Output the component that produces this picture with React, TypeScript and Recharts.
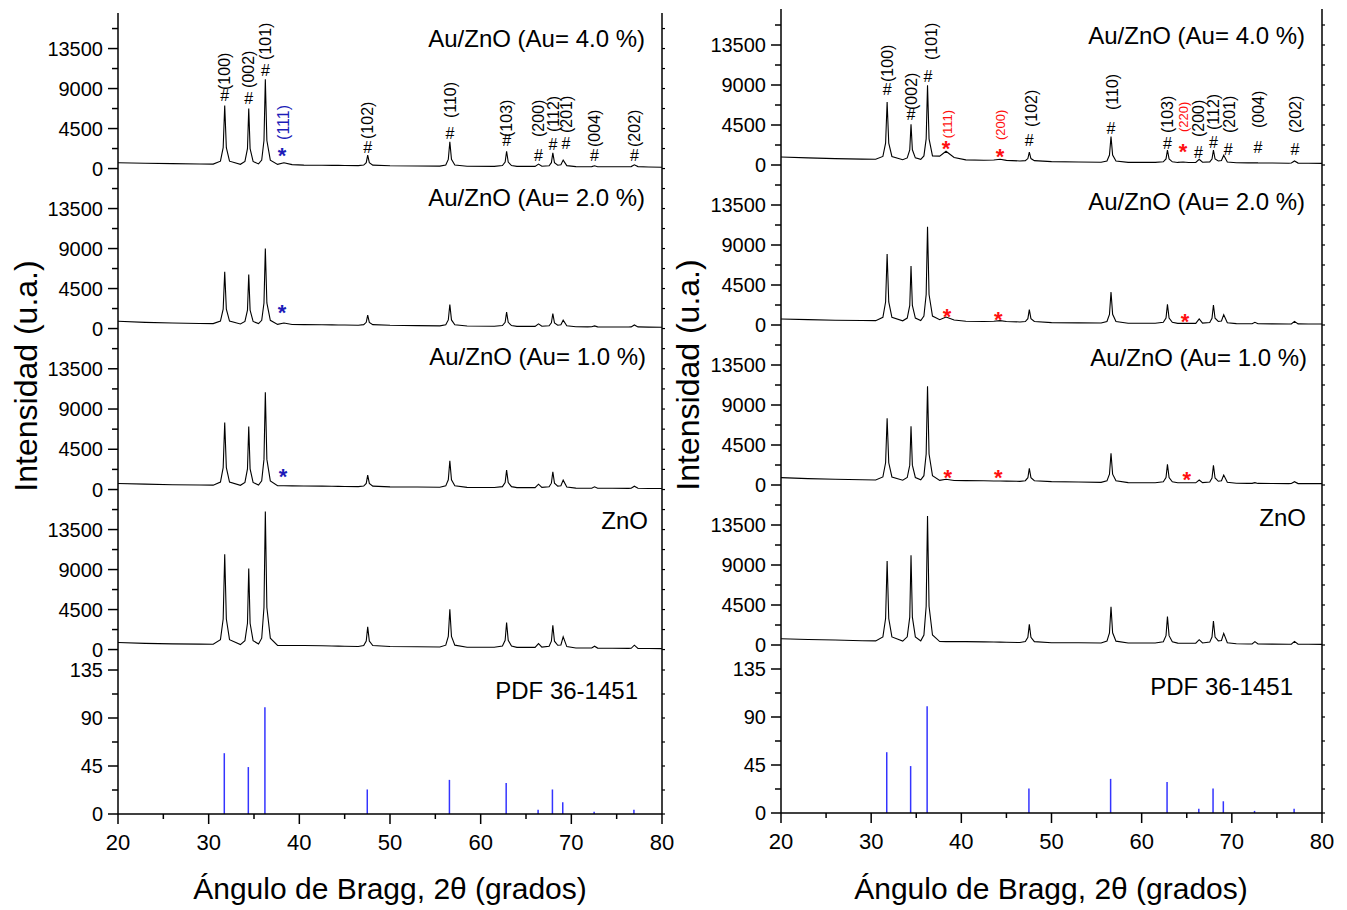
import React from 'react';
import { ComposedChart, Line, Bar, Scatter, XAxis, YAxis } from 'recharts';

const FONT = '"Liberation Sans", Arial, Helvetica, sans-serif';

// ángulos 2θ donde se leyeron las intensidades
const twoTheta = [
  20, 23, 26, 29, 30.5,
  31.3, 31.6, 31.77, 31.95, 32.3,
  33.5,
  34.0, 34.28, 34.42, 34.57, 34.9,
  35.5,
  35.85, 36.1, 36.25, 36.42, 36.8,
  37.6, 38.3, 39.2, 40.5, 42.5, 43.6, 44.3, 45.0, 46.5,
  47.1, 47.38, 47.54, 47.72, 48.1,
  50, 53, 55.5,
  56.15, 56.43, 56.6, 56.78, 57.15,
  58.5, 61.5,
  62.4, 62.7, 62.86, 63.04, 63.4,
  64.0, 64.6, 65.2,
  66.0, 66.38, 66.75,
  67.55, 67.8, 67.96, 68.14, 68.5,
  68.85, 69.1, 69.5,
  70.5, 71.8,
  72.25, 72.56, 72.9,
  74.5, 76.3,
  76.6, 76.95, 77.35,
  78.5, 80,
];

const leftAu4 = [
  650, 600, 560, 520, 500,
  830, 2350, 7100, 2350, 830,
  480,
  800, 2240, 6750, 2240, 800,
  520,
  950, 3150, 10050, 3150, 950,
  470, 650, 440, 390, 370, 360, 355, 350, 330,
  390, 660, 1500, 660, 390,
  310, 290, 275,
  405, 1035, 3000, 1035, 405,
  265, 250,
  335, 725, 1950, 725, 335,
  245, 245, 240,
  240, 500, 260,
  310, 660, 1760, 660, 380,
  420, 950, 330,
  220, 210,
  215, 320, 210,
  200, 195,
  220, 420, 220,
  180, 150,
];

const leftAu2 = [
  825, 700, 620, 570, 560,
  840, 2180, 6375, 2180, 840,
  520,
  800, 2075, 6075, 2075, 800,
  560,
  925, 2880, 9000, 2880, 925,
  470, 620, 460, 440, 420, 410, 405, 400, 380,
  440, 700, 1500, 700, 440,
  370, 330, 300,
  420, 970, 2700, 970, 420,
  280, 260,
  340, 700, 1840, 700, 340,
  250, 250, 245,
  245, 525, 265,
  310, 645, 1690, 645, 380,
  420, 940, 320,
  200, 190,
  195, 300, 190,
  180, 170,
  190, 410, 190,
  160, 150,
];

const leftAu1 = [
  675, 600, 540, 500, 490,
  840, 2450, 7500, 2450, 840,
  470,
  800, 2310, 7050, 2310, 800,
  500,
  970, 3370, 10875, 3370, 970,
  420, 430, 410, 400, 380, 360, 350, 345, 320,
  385, 680, 1610, 680, 385,
  300, 280, 260,
  410, 1090, 3225, 1090, 410,
  240, 225,
  320, 770, 2175, 770, 320,
  215, 212, 210,
  215, 600, 240,
  300, 710, 1990, 710, 380,
  430, 1050, 280,
  160, 150,
  150, 300, 148,
  140, 130,
  140, 375, 135,
  120, 110,
];

const leftZnO = [
  790, 700, 640, 610, 600,
  1110, 3435, 10725, 3435, 1110,
  560,
  1000, 2960, 9110, 2960, 1000,
  620,
  1280, 4730, 15525, 4730, 1280,
  470, 460, 455, 450, 420, 400, 390, 380, 350,
  460, 965, 2550, 965, 460,
  340, 310, 280,
  495, 1470, 4540, 1470, 495,
  265, 260,
  395, 1035, 3040, 1035, 395,
  250, 245, 240,
  250, 675, 280,
  365, 940, 2740, 940, 480,
  520, 1425, 330,
  180, 170,
  170, 375, 165,
  150, 130,
  140, 490, 135,
  120, 110,
];

const rightAu4 = [
  900, 800, 720, 660, 640,
  960, 2450, 7090, 2450, 960,
  600,
  800, 1710, 4575, 1710, 800,
  640,
  1020, 2940, 8960, 2940, 1020,
  1000, 1540, 850, 580, 540, 560, 640, 520, 450,
  490, 725, 1460, 725, 490,
  380, 340, 310,
  455, 1115, 3190, 1115, 455,
  300, 290,
  360, 680, 1690, 680, 360,
  290, 330, 285,
  285, 640, 310,
  350, 675, 1690, 675, 450,
  500, 1090, 330,
  250, 240,
  240, 260, 235,
  220, 200,
  220, 450, 215,
  190, 180,
];

const rightAu2 = [
  675, 600, 540, 500, 490,
  865, 2590, 7990, 2590, 865,
  470,
  780, 2200, 6640, 2200, 780,
  500,
  1000, 3435, 11060, 3435, 1000,
  600, 900, 560, 420, 400, 420, 490, 400, 340,
  390, 715, 1725, 715, 390,
  270, 240, 220,
  395, 1200, 3710, 1200, 395,
  200, 190,
  300, 790, 2325, 790, 300,
  185, 190, 180,
  185, 675, 210,
  285, 760, 2250, 760, 400,
  450, 1160, 260,
  150, 140,
  140, 300, 138,
  130, 120,
  125, 410, 122,
  115, 110,
];

const rightAu1 = [
  825, 720, 650, 590, 560,
  905, 2500, 7500, 2500, 905,
  540,
  845, 2235, 6600, 2235, 845,
  580,
  1050, 3480, 11100, 3480, 1050,
  520, 640, 500, 490, 470, 450, 450, 440, 410,
  485, 820, 1875, 820, 485,
  375, 330, 300,
  465, 1215, 3560, 1215, 465,
  270, 260,
  365, 840, 2325, 840, 365,
  250, 250, 245,
  245, 560, 265,
  340, 790, 2210, 790, 420,
  470, 1125, 300,
  190, 180,
  180, 260, 178,
  170, 160,
  165, 375, 160,
  155, 150,
];

const rightZnO = [
  710, 620, 560, 480, 460,
  910, 2980, 9450, 2980, 910,
  440,
  920, 3140, 10090, 3140, 920,
  470,
  1125, 4365, 14510, 4365, 1125,
  390, 385, 380, 375, 350, 330, 320, 310, 280,
  380, 855, 2325, 855, 380,
  260, 245, 230,
  435, 1370, 4310, 1370, 435,
  225, 220,
  370, 1050, 3190, 1050, 370,
  210, 205, 200,
  205, 600, 230,
  325, 900, 2700, 900, 470,
  510, 1310, 260,
  140, 120,
  120, 375, 115,
  100, 90,
  90, 410, 88,
  80, 75,
];

// patrón de referencia PDF 36-1451
const pdfAngles = [31.77, 34.42, 36.25, 47.54, 56.6, 62.86, 66.38, 67.96, 69.1, 72.56, 76.95];
const pdfIntensity = [57, 44, 100, 23, 32, 29, 4, 23, 11, 2, 4];

const xTicks = [20, 25, 30, 35, 40, 45, 50, 55, 60, 65, 70, 75, 80];
const intensityTicks = [0, 2250, 4500, 6750, 9000, 11250, 13500, 15750];
const pdfTicks = [0, 22.5, 45, 67.5, 90, 112.5, 135];

type Mark = { x: number; y: number; glyph: string; color: string };
type Tag = { x: number; y: number; text: string; color: string; size: number };

const BLACK = '#000000';
const BLUE = '#1c1cb8';
const RED = '#ff1010';
const STICK = '#3434ff';

const hash = (x: number, y: number): Mark => ({ x, y, glyph: '#', color: BLACK });
const star = (x: number, y: number, color: string): Mark => ({ x, y, glyph: '*', color });
const tag = (x: number, y: number, text: string, color = BLACK, size = 16): Tag => ({ x, y, text, color, size });

const leftAu4Marks = [
  hash(31.77, 8280), hash(34.42, 7940), hash(36.25, 11090), star(38.1, 2090, BLUE),
  hash(47.54, 2430), hash(56.6, 4000), hash(62.86, 3220), hash(66.38, 1530),
  hash(67.96, 2770), hash(69.4, 2880), hash(72.56, 1530), hash(76.95, 1530),
];
const leftAu4Tags = [
  tag(31.77, 8840, '(100)'), tag(34.42, 9070, '(002)'), tag(36.25, 12220, '(101)'),
  tag(38.2, 3220, '(111)', BLUE), tag(47.54, 3330, '(102)'), tag(56.6, 5680, '(110)'),
  tag(62.86, 3555, '(103)'), tag(66.38, 3555, '(200)'), tag(67.96, 4110, '(112)'),
  tag(69.4, 4000, '(201)'), tag(72.56, 2430, '(004)'), tag(76.95, 2430, '(202)'),
];
const leftAu2Marks = [star(38.1, 2320, BLUE)];
const leftAu1Marks = [star(38.2, 1980, BLUE)];

const rightAu4Marks = [
  hash(31.77, 8540), hash(34.42, 5740), hash(36.3, 10010), star(38.3, 2475, RED),
  star(44.3, 1575, RED), hash(47.54, 2810), hash(56.6, 4160), hash(62.86, 2475),
  star(64.6, 2140, RED), hash(66.3, 1460), hash(67.96, 2590), hash(69.6, 1800),
  hash(72.9, 2025), hash(77.0, 1800),
];
const rightAu4Tags = [
  tag(31.77, 9340, '(100)'), tag(34.42, 6190, '(002)'), tag(36.7, 11810, '(101)'),
  tag(38.4, 3000, '(111)', RED, 13), tag(44.3, 2810, '(200)', RED, 13), tag(47.7, 4270, '(102)'),
  tag(56.75, 6190, '(110)'), tag(62.86, 3600, '(103)'), tag(64.6, 3710, '(220)', RED, 13),
  tag(66.3, 3150, '(200)'), tag(67.96, 3940, '(112)'), tag(69.7, 3600, '(201)'),
  tag(72.9, 4160, '(004)'), tag(77.0, 3600, '(202)'),
];
const rightAu2Marks = [star(38.4, 1575, RED), star(44.1, 1240, RED), star(64.8, 1010, RED)];
const rightAu1Marks = [star(38.5, 1460, RED), star(44.1, 1460, RED), star(65.0, 1240, RED)];

const AXIS_W = 80;
const RIGHT_W = 20;
const PAD = 2;
const PAD_B = 12;
const XAXIS_H = 50;

const MarkShape = (p: any) => {
  const { cx, cy, payload } = p;
  const isStar = payload.glyph === '*';
  const fs = isStar ? 22 : 16;
  return (
    <text
      x={cx}
      y={cy + (isStar ? 0.57 : 0.35) * fs}
      textAnchor="middle"
      fontSize={fs}
      fontWeight={isStar ? 'bold' : 'normal'}
      fill={payload.color}
      fontFamily={FONT}
    >
      {payload.glyph}
    </text>
  );
};

const TagShape = (p: any) => {
  const { cx, cy, payload } = p;
  const fs = payload.size;
  const ax = cx + 0.36 * fs;
  return (
    <text
      x={ax}
      y={cy}
      transform={`rotate(-90 ${ax} ${cy})`}
      textAnchor="start"
      fontSize={fs}
      fill={payload.color}
      fontFamily={FONT}
    >
      {payload.text}
    </text>
  );
};

interface PanelProps {
  left: number;
  top: number;
  width: number;
  height: number;
  yDomain: [number, number];
  yTicks: number[];
  yMajor: number;
  bottom?: boolean;
  side: 'left' | 'right';
  series?: number[];
  marks?: Mark[];
  tags?: Tag[];
}

const isMultiple = (v: number, step: number) => Math.abs(v / step - Math.round(v / step)) < 1e-6;

function Panel({ left, top, width, height, yDomain, yTicks, yMajor, bottom = false, side, series, marks = [], tags = [] }: PanelProps) {
  const rows = series
    ? twoTheta.map((x, i) => ({ x, y: series[i] }))
    : pdfAngles.map((x, i) => ({ x, y: pdfIntensity[i] }));
  const chartH = PAD + height + (bottom ? XAXIS_H : PAD_B);

  const leftTick = (p: any) => {
    const v = p.payload.value;
    const major = isMultiple(v, yMajor);
    const len = major ? 10 : 6;
    return (
      <g>
        <line x1={p.x - len} x2={p.x} y1={p.y} y2={p.y} stroke="#000" strokeWidth={1.5} />
        {major && (
          <text x={p.x - 15} y={p.y} dy="0.36em" textAnchor="end" fontSize={20} fontFamily={FONT} fill="#000">
            {v}
          </text>
        )}
      </g>
    );
  };

  const rightTick = (p: any) => (
    <line x1={p.x} x2={p.x + 3} y1={p.y} y2={p.y} stroke="#000" strokeWidth={1.2} />
  );

  const bottomTick = (p: any) => {
    const v = p.payload.value;
    const major = isMultiple(v, 10);
    let len = major ? 10 : 5;
    if (!bottom && side === 'left') len = 3;
    const dir = bottom ? 1 : -1;
    return (
      <g>
        <line x1={p.x} x2={p.x} y1={p.y} y2={p.y + dir * len} stroke="#000" strokeWidth={1.5} />
        {bottom && major && (
          <text x={p.x} y={p.y + 36} textAnchor="middle" fontSize={22} fontFamily={FONT} fill="#000">
            {v}
          </text>
        )}
      </g>
    );
  };

  const topTick = (p: any) => (
    <line x1={p.x} x2={p.x} y1={p.y} y2={p.y + 3} stroke="#000" strokeWidth={1.2} />
  );

  return (
    <div style={{ position: 'absolute', left: left - AXIS_W, top: top - PAD }}>
      <ComposedChart
        width={AXIS_W + width + RIGHT_W}
        height={chartH}
        data={rows}
        margin={{ top: PAD, right: 0, bottom: bottom ? 0 : PAD_B, left: 0 }}
      >
        <XAxis
          dataKey="x"
          type="number"
          domain={[20, 80]}
          ticks={xTicks}
          interval={0}
          allowDataOverflow
          height={bottom ? XAXIS_H : 0}
          tickSize={0}
          tickMargin={0}
          tickLine={false}
          axisLine={{ stroke: '#000', strokeWidth: 1.5 }}
          tick={bottomTick}
        />
        <XAxis
          xAxisId="top"
          orientation="top"
          dataKey="x"
          type="number"
          domain={[20, 80]}
          ticks={xTicks}
          interval={0}
          allowDataOverflow
          height={0}
          tickSize={0}
          tickMargin={0}
          tickLine={false}
          axisLine={{ stroke: '#000', strokeWidth: 1.5 }}
          tick={side === 'left' ? topTick : false}
        />
        <YAxis
          type="number"
          domain={yDomain}
          ticks={yTicks}
          interval={0}
          allowDataOverflow
          width={AXIS_W}
          tickSize={0}
          tickMargin={0}
          tickLine={false}
          axisLine={{ stroke: '#000', strokeWidth: 1.5 }}
          tick={leftTick}
        />
        <YAxis
          yAxisId="right"
          orientation="right"
          type="number"
          domain={yDomain}
          ticks={yTicks}
          interval={0}
          allowDataOverflow
          width={RIGHT_W}
          tickSize={0}
          tickMargin={0}
          tickLine={false}
          axisLine={{ stroke: '#000', strokeWidth: 1.5 }}
          tick={rightTick}
        />
        <Line
          xAxisId="top"
          yAxisId="right"
          dataKey="y"
          stroke="none"
          dot={false}
          activeDot={false}
          isAnimationActive={false}
        />
        {series ? (
          <Line
            type="linear"
            dataKey="y"
            stroke="#000"
            strokeWidth={1.1}
            dot={false}
            activeDot={false}
            isAnimationActive={false}
          />
        ) : (
          <Bar dataKey="y" fill={STICK} barSize={1.5} isAnimationActive={false} />
        )}
        {marks.length > 0 && (
          <Scatter data={marks} dataKey="y" shape={(p: any) => <MarkShape {...p} />} isAnimationActive={false} />
        )}
        {tags.length > 0 && (
          <Scatter data={tags} dataKey="y" shape={(p: any) => <TagShape {...p} />} isAnimationActive={false} />
        )}
      </ComposedChart>
    </div>
  );
}

const TITLE_STYLE = { fontFamily: FONT, fontSize: 24, fill: '#000' } as const;

export default function App() {
  const L = 118;
  const LW = 544;
  const R = 781;
  const RW = 541;
  const leftDomain: [number, number] = [-500, 17500];
  const rightDomain: [number, number] = [-900, 17100];

  return (
    <div style={{ position: 'absolute', left: 0, top: 0, width: 1347, height: 910, background: '#fff', fontFamily: FONT }}>
      <Panel left={L} top={13} width={LW} height={160} yDomain={leftDomain} yTicks={intensityTicks} yMajor={4500} side="left" series={leftAu4} marks={leftAu4Marks} tags={leftAu4Tags} />
      <Panel left={L} top={173} width={LW} height={160} yDomain={leftDomain} yTicks={intensityTicks} yMajor={4500} side="left" series={leftAu2} marks={leftAu2Marks} />
      <Panel left={L} top={333} width={LW} height={161} yDomain={leftDomain} yTicks={intensityTicks} yMajor={4500} side="left" series={leftAu1} marks={leftAu1Marks} />
      <Panel left={L} top={494} width={LW} height={160} yDomain={leftDomain} yTicks={intensityTicks} yMajor={4500} side="left" series={leftZnO} />
      <Panel left={L} top={654} width={LW} height={160} yDomain={[0, 150]} yTicks={pdfTicks} yMajor={45} side="left" bottom />

      <Panel left={R} top={9} width={RW} height={164} yDomain={[-900, 17550]} yTicks={intensityTicks} yMajor={4500} side="right" series={rightAu4} marks={rightAu4Marks} tags={rightAu4Tags} />
      <Panel left={R} top={173} width={RW} height={160} yDomain={rightDomain} yTicks={intensityTicks} yMajor={4500} side="right" series={rightAu2} marks={rightAu2Marks} />
      <Panel left={R} top={333} width={RW} height={160} yDomain={rightDomain} yTicks={intensityTicks} yMajor={4500} side="right" series={rightAu1} marks={rightAu1Marks} />
      <Panel left={R} top={493} width={RW} height={160} yDomain={rightDomain} yTicks={intensityTicks} yMajor={4500} side="right" series={rightZnO} />
      <Panel left={R} top={653} width={RW} height={160} yDomain={[0, 150]} yTicks={pdfTicks} yMajor={45} side="right" bottom />

      <svg width={1347} height={910} style={{ position: 'absolute', left: 0, top: 0, pointerEvents: 'none' }}>
        <text x={645} y={47} textAnchor="end" {...TITLE_STYLE}>Au/ZnO (Au= 4.0 %)</text>
        <text x={645} y={206} textAnchor="end" {...TITLE_STYLE}>Au/ZnO (Au= 2.0 %)</text>
        <text x={646} y={365} textAnchor="end" {...TITLE_STYLE}>Au/ZnO (Au= 1.0 %)</text>
        <text x={648} y={529} textAnchor="end" {...TITLE_STYLE}>ZnO</text>
        <text x={638} y={699} textAnchor="end" {...TITLE_STYLE}>PDF 36-1451</text>

        <text x={1305} y={44} textAnchor="end" {...TITLE_STYLE}>Au/ZnO (Au= 4.0 %)</text>
        <text x={1305} y={210} textAnchor="end" {...TITLE_STYLE}>Au/ZnO (Au= 2.0 %)</text>
        <text x={1307} y={366} textAnchor="end" {...TITLE_STYLE}>Au/ZnO (Au= 1.0 %)</text>
        <text x={1306} y={526} textAnchor="end" {...TITLE_STYLE}>ZnO</text>
        <text x={1293} y={695} textAnchor="end" {...TITLE_STYLE}>PDF 36-1451</text>

        <text x={390} y={899} textAnchor="middle" fontFamily={FONT} fontSize={30} fill="#000">
          Ángulo de Bragg, 2θ (grados)
        </text>
        <text x={1051} y={899} textAnchor="middle" fontFamily={FONT} fontSize={30} fill="#000">
          Ángulo de Bragg, 2θ (grados)
        </text>
        <text x={37} y={376} textAnchor="middle" transform="rotate(-90 37 376)" fontFamily={FONT} fontSize={32} fill="#000">
          Intensidad (u.a.)
        </text>
        <text x={699} y={375} textAnchor="middle" transform="rotate(-90 699 375)" fontFamily={FONT} fontSize={32} fill="#000">
          Intensidad (u.a.)
        </text>
      </svg>
    </div>
  );
}
